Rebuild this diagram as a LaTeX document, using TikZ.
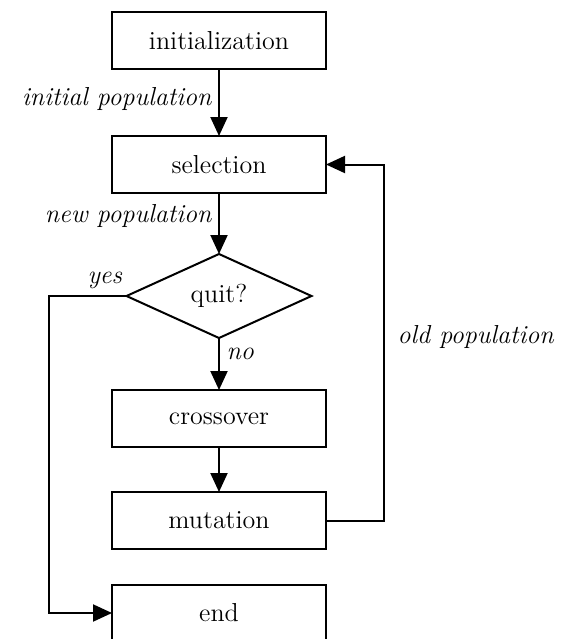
\documentclass[tikz,border=0pt]{standalone}
\usetikzlibrary{shapes.geometric,arrows.meta}

\begin{document}
\begin{tikzpicture}[x=0.5pt,y=-0.5pt,line width=1pt,text badly centered,
	font=\fontsize{13}{15}\selectfont,
	>={Triangle[width=8.5pt,length=9.5pt]}]

	\useasboundingbox (0,0) rectangle (563,639);

	\begin{scope}[every node/.style={draw,rectangle,outer sep=0cm,minimum width=107pt,minimum height=28.5pt}]
		\node (init) at (219,40.5) {initialization};
		\node (sel) at (219,164.5) {selection};
		\node (cross) at (219,418.5) {crossover};
		\node (mut) at (219,520.5) {mutation};
		\node (end) at (219,613) {end};
	\end{scope}

	\node[draw,diamond,aspect=2.2,minimum width=92.5pt,minimum height=42pt,inner sep=0pt,outer sep=0cm] (quit) at (219,296) {quit?};

	\coordinate (yesturn) at (49,296);
	\coordinate (oldlow) at (384,520.5);
	\coordinate (oldhigh) at (384,164.5);

	\draw[->] (init) -- node[left,pos=0.45] {\itshape initial population} (sel);
	\draw[->] (sel) -- node[left,pos=0.38] {\itshape new population} (quit);
	\draw[->] (quit) -- node[right,pos=0.3] {\itshape no} (cross);
	\draw[->] (cross) -- (mut);
	\draw[->] (quit.west) -- node[above,pos=0.28] {\itshape yes} (yesturn) |- (end.west);
	\draw[->] (mut.east) -- (oldlow) -- node[right,pos=0.515,xshift=3pt] {\itshape old population} (oldhigh) -- (sel.east);

\end{tikzpicture}
\end{document}
